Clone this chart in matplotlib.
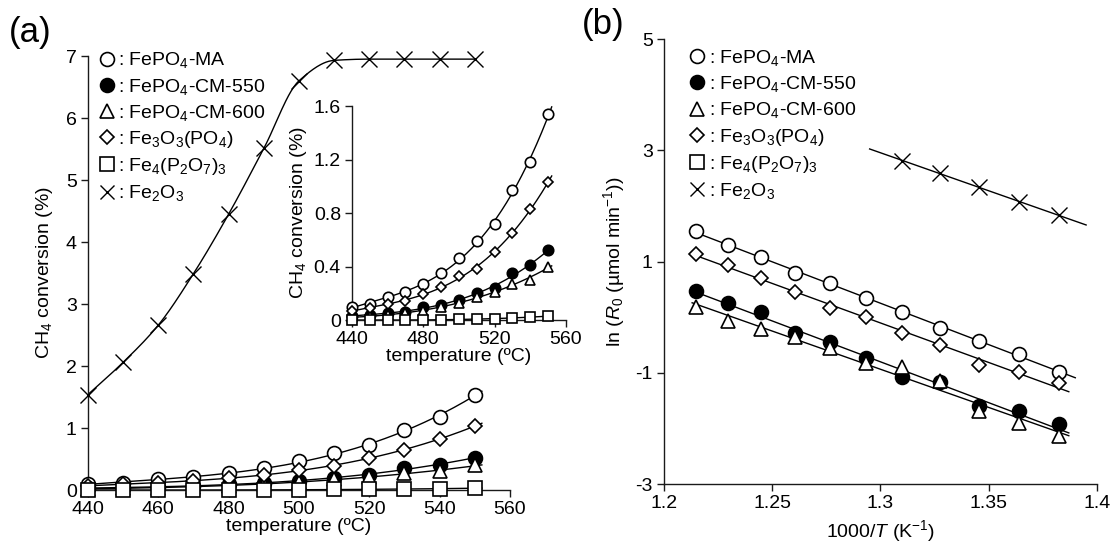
import matplotlib
matplotlib.use("Agg")
import matplotlib.pyplot as plt
import numpy as np

plt.rcParams['font.family'] = ['Liberation Sans', 'DejaVu Sans']
plt.rcParams['mathtext.fontset'] = 'custom'
plt.rcParams['mathtext.rm'] = 'Liberation Sans'
plt.rcParams['mathtext.it'] = 'Liberation Sans:italic'
plt.rcParams['mathtext.bf'] = 'Liberation Sans:bold'
plt.rcParams['axes.unicode_minus'] = False

# conversion du CH4 en fonction de la temperature (440 -> 550 C)
temp = [440, 450, 460, 470, 480, 490, 500, 510, 520, 530, 540, 550]
conv_ma = [0.10, 0.12, 0.17, 0.21, 0.27, 0.35, 0.46, 0.59, 0.72, 0.97, 1.18, 1.54]
conv_cm550 = [0.03, 0.04, 0.055, 0.06, 0.10, 0.11, 0.15, 0.20, 0.24, 0.355, 0.41, 0.52]
conv_cm600 = [0.02, 0.03, 0.04, 0.05, 0.07, 0.10, 0.13, 0.17, 0.21, 0.27, 0.30, 0.40]
conv_fe3o3 = [0.07, 0.09, 0.12, 0.14, 0.195, 0.245, 0.33, 0.385, 0.51, 0.65, 0.83, 1.03]
conv_fe4 = [0.0, 0.0, 0.0, 0.0, 0.0, 0.0, 0.005, 0.01, 0.01, 0.015, 0.02, 0.03]
conv_fe2o3 = [1.54, 2.06, 2.66, 3.49, 4.45, 5.51, 6.60, 6.93, 6.95, 6.95, 6.95, 6.95]

# Arrhenius : 1000/T (K-1) de 550 a 450 C
inv_t = [1.2148, 1.2297, 1.2449, 1.2606, 1.2767, 1.2932, 1.3101, 1.3275, 1.3454, 1.3638, 1.3827]
ln_ma = [1.545, 1.29, 1.09, 0.80, 0.61, 0.34, 0.09, -0.20, -0.42, -0.66, -0.98]
ln_cm550 = [0.47, 0.25, 0.10, -0.29, -0.45, -0.74, -1.07, -1.16, -1.59, -1.68, -1.93]
ln_cm600 = [0.18, -0.07, -0.21, -0.36, -0.55, -0.83, -0.90, -1.15, -1.68, -1.91, -2.13]
ln_fe3o3 = [1.13, 0.93, 0.70, 0.45, 0.16, 0.01, -0.28, -0.50, -0.86, -0.99, -1.18]
inv_t_fe2o3 = [1.3101, 1.3275, 1.3454, 1.3638, 1.3827]
ln_fe2o3 = [2.81, 2.59, 2.34, 2.07, 1.83]

labels = [': FePO$_4$-MA', ': FePO$_4$-CM-550', ': FePO$_4$-CM-600',
          ': Fe$_3$O$_3$(PO$_4$)', ': Fe$_4$(P$_2$O$_7$)$_3$', ': Fe$_2$O$_3$']

KC = '#1a1a1a'
FS = 14


# pchip : interpolation monotone pour tracer une courbe lisse
def pchip(x, y, xs):
    x = np.asarray(x, float)
    y = np.asarray(y, float)
    h = np.diff(x)
    d = np.diff(y) / h
    m = np.zeros_like(y)
    for k in range(1, len(x) - 1):
        if d[k - 1] * d[k] > 0:
            w1 = 2 * h[k] + h[k - 1]
            w2 = h[k] + 2 * h[k - 1]
            m[k] = (w1 + w2) / (w1 / d[k - 1] + w2 / d[k])
    m[0] = d[0]
    m[-1] = d[-1]
    i = np.clip(np.searchsorted(x, xs) - 1, 0, len(x) - 2)
    t = (xs - x[i]) / h[i]
    h00 = 2 * t**3 - 3 * t**2 + 1
    h10 = t**3 - 2 * t**2 + t
    h01 = -2 * t**3 + 3 * t**2
    h11 = t**3 - t**2
    return h00 * y[i] + h10 * h[i] * m[i] + h01 * y[i + 1] + h11 * h[i] * m[i + 1]


def style_axes(ax, fs):
    for s in ['top', 'right']:
        ax.spines[s].set_visible(False)
    for s in ['left', 'bottom']:
        ax.spines[s].set_color(KC)
        ax.spines[s].set_linewidth(1.0)
    ax.tick_params(direction='out', length=5, width=1.0, color=KC, labelsize=fs, pad=3)


def conv_panel(ax, ms, with_fe2o3):
    series = [(conv_ma, 'o', 'white', ms),
              (conv_cm550, 'o', 'black', ms),
              (conv_cm600, '^', 'white', ms),
              (conv_fe3o3, 'D', 'white', ms * 0.72),
              (conv_fe4, 's', 'white', ms * 0.95)]
    xs = np.linspace(440, 552, 200)
    for ys, mk, fc, s in series:
        p = np.polyfit(temp, ys, 3)
        ax.plot(xs, np.polyval(p, xs), color='black', lw=1.0, zorder=2, clip_on=False)
    for ys, mk, fc, s in series:
        ax.plot(temp, ys, ls='none', marker=mk, ms=s, mfc=fc, mec='black',
                mew=1.2, zorder=3, clip_on=False)
    if with_fe2o3:
        xs = np.linspace(440, 550, 300)
        ax.plot(xs, pchip(temp, conv_fe2o3, xs), color='black', lw=1.0, zorder=2)
        ax.plot(temp, conv_fe2o3, ls='none', marker='x', ms=ms * 1.1, mec='black',
                mew=1.0, zorder=3, clip_on=False)


def add_legend(ax, ms, loc):
    hs = [plt.Line2D([], [], ls='none', marker='o', ms=ms, mfc='white', mec='black', mew=1.2),
          plt.Line2D([], [], ls='none', marker='o', ms=ms, mfc='black', mec='black', mew=1.2),
          plt.Line2D([], [], ls='none', marker='^', ms=ms, mfc='white', mec='black', mew=1.2),
          plt.Line2D([], [], ls='none', marker='D', ms=ms * 0.72, mfc='white', mec='black', mew=1.2),
          plt.Line2D([], [], ls='none', marker='s', ms=ms * 0.95, mfc='white', mec='black', mew=1.2),
          plt.Line2D([], [], ls='none', marker='x', ms=ms, mec='black', mew=1.0)]
    ax.legend(hs, labels, loc='upper left', bbox_to_anchor=loc, frameon=False,
              fontsize=FS, handlelength=0.8, handletextpad=0.2, labelspacing=0.32,
              borderaxespad=0, borderpad=0)


fig = plt.figure(figsize=(11.15, 5.45), dpi=100)

# (a) conversion
ax1 = fig.add_axes([0.0789, 0.1009, 0.3785, 0.7963])
conv_panel(ax1, 10, True)
ax1.set_xlim(440, 560)
ax1.set_ylim(0, 7)
ax1.set_xticks([440, 460, 480, 500, 520, 540, 560])
ax1.set_yticks(range(0, 8))
style_axes(ax1, FS)
ax1.set_xlabel('temperature (ºC)', fontsize=FS, labelpad=0)
ax1.set_ylabel('CH$_4$ conversion (%)', fontsize=FS, labelpad=8)
add_legend(ax1, 10, (0.026, 1.013))
fig.text(0.008, 0.94, '(a)', fontsize=25, va='center', ha='left')

# encart : zoom sur les faibles conversions
ax2 = fig.add_axes([0.3157, 0.4128, 0.1919, 0.3927])
ax2.set_facecolor('none')
conv_panel(ax2, 7.5, False)
ax2.set_xlim(440, 560)
ax2.set_ylim(0, 1.6)
ax2.set_xticks([440, 480, 520, 560])
ax2.set_yticks([0, 0.4, 0.8, 1.2, 1.6])
ax2.set_yticklabels(['0', '0.4', '0.8', '1.2', '1.6'])
style_axes(ax2, FS)
ax2.set_xlabel('temperature (ºC)', fontsize=FS, labelpad=0)
ax2.set_ylabel('CH$_4$ conversion (%)', fontsize=FS, labelpad=3)

# (b) Arrhenius
ax3 = fig.add_axes([0.5955, 0.1119, 0.3883, 0.8165])
fits = [(inv_t, ln_ma, 'o', 'white', 10, 1.213, 1.390),
        (inv_t, ln_cm550, 'o', 'black', 10, 1.213, 1.387),
        (inv_t, ln_cm600, '^', 'white', 10, 1.213, 1.387),
        (inv_t, ln_fe3o3, 'D', 'white', 7.2, 1.213, 1.387),
        (inv_t_fe2o3, ln_fe2o3, 'x', 'none', 11, 1.295, 1.395)]
for xv, yv, mk, fc, s, x0, x1 in fits:
    p = np.polyfit(xv, yv, 1)
    xs = np.array([x0, x1])
    ax3.plot(xs, np.polyval(p, xs), color='black', lw=1.0, zorder=2)
for xv, yv, mk, fc, s, x0, x1 in fits:
    ax3.plot(xv, yv, ls='none', marker=mk, ms=s, mfc=fc, mec='black',
             mew=1.0 if mk == 'x' else 1.2, zorder=3)
ax3.set_xlim(1.2, 1.4)
ax3.set_ylim(-3, 5)
ax3.set_xticks([1.2, 1.25, 1.3, 1.35, 1.4])
ax3.set_xticklabels(['1.2', '1.25', '1.3', '1.35', '1.4'])
ax3.set_yticks([-3, -1, 1, 3, 5])
ax3.set_yticklabels(['-3', '-1', '1', '3', '5'])
style_axes(ax3, FS)
ax3.tick_params(axis='x', pad=3)
ax3.set_xlabel('1000/$T$ (K$^{\u22121}$)', fontsize=FS, labelpad=4)
ax3.set_ylabel('ln ($R_\\mathrm{0}$ (µmol min$^{\u22121}$))', fontsize=FS, labelpad=6)
add_legend(ax3, 10, (0.058, 0.98))
fig.text(0.522, 0.955, '(b)', fontsize=25, va='center', ha='left')

fig.savefig('out.png', dpi=100)
